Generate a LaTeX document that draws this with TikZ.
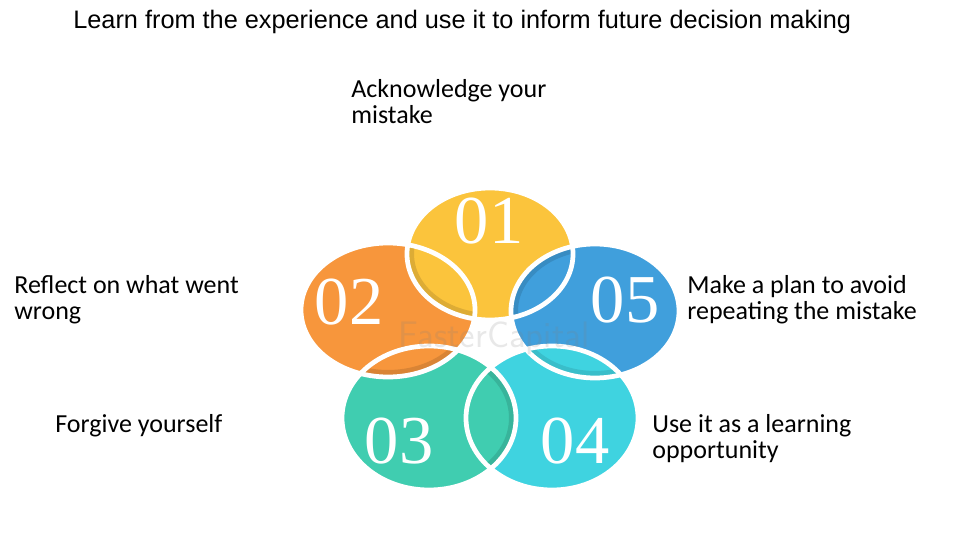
\documentclass[tikz,border=0pt]{standalone}
\usepackage{fontspec}
\setmainfont{Liberation Sans}
\newfontfamily\labfont{Carlito}
\newfontfamily\numfont{Liberation Serif}
\definecolor{cyel}{HTML}{FBC43C}
\definecolor{cora}{HTML}{F7963C}
\definecolor{cblu}{HTML}{409FDC}
\definecolor{cgrn}{HTML}{40CDB0}
\definecolor{ccya}{HTML}{3FD3E0}
\begin{document}
\begin{tikzpicture}[x=0.02cm,y=-0.02cm,
  EA/.style={insert path={(490,254) ellipse [x radius=83,y radius=66]}},
  EB/.style={insert path={(388,310) ellipse [x radius=87,y radius=67]}},
  EE/.style={insert path={(595,311) ellipse [x radius=84,y radius=67]}},
  EC/.style={insert path={(429,418) ellipse [x radius=87,y radius=72]}},
  ED/.style={insert path={(552,418) ellipse [x radius=86,y radius=72]}},
  rim/.style={draw=white,line width=2.7pt},
  shade/.style={line width=8pt},
  num/.style={text=white,font=\numfont\fontsize{39}{39}\selectfont,inner sep=0pt},
  lab/.style={font=\labfont\fontsize{14.8}{14.8}\selectfont,align=left,anchor=north west,inner sep=0pt},
  title/.style={font=\fontsize{14.4}{16}\selectfont,anchor=west,inner sep=0pt},
  wm/.style={font=\sffamily\fontsize{21}{21}\selectfont,text=gray,opacity=0.18,inner sep=0pt}]
\useasboundingbox[fill=white] (0,0) rectangle (980,550);
% base fills
\fill[cora,EB];
\fill[cgrn,EC];
\fill[ccya,ED];
\fill[cblu,EE];
\fill[cyel,EA];
% lens 01/02 (yellow, shade along 01 rim)
\begin{scope}\clip[EA];\clip[EB];
  \fill[cyel,EB];\draw[cyel!88!black,shade,EA];
\end{scope}
% lens 01/05 (blue, shade along 05 rim)
\begin{scope}\clip[EA];\clip[EE];
  \fill[cblu,EE];\draw[cblu!88!black,shade,EE];
\end{scope}
% lens 05/04 (cyan, shade along 05 rim)
\begin{scope}\clip[EE];\clip[ED];
  \fill[ccya,ED];\draw[ccya!90!black,shade,EE];
\end{scope}
% lens 04/03 (green, shade along 03 rim)
\begin{scope}\clip[EC];\clip[ED];
  \fill[cgrn,EC];\draw[cgrn!88!black,shade,EC];
\end{scope}
% lens 03/02 (orange, shade along 02 rim)
\begin{scope}\clip[EB];\clip[EC];
  \fill[cora,EB];\draw[cora!88!black,shade,EB];
\end{scope}
% white rims
\path[rim,EA];\path[rim,EB];\path[rim,EC];\path[rim,ED];\path[rim,EE];
% watermark
\node[wm] (wmk) at (494,338) {FasterCapital};
% numbers
\node[num] (n1) at (489,221) {01};
\node[num] (n2) at (349,302) {02};
\node[num] (n5) at (625,300) {05};
\node[num] (n3) at (399,441) {03};
\node[num] (n4) at (575,441) {04};
% texts
\node[title] (t) at (73,22) {Learn from the experience and use it to inform future decision making};
\node[lab] (l1) at (351,79) {Acknowledge your\\mistake};
\node[lab] (l2) at (14,275) {Reflect on what went\\wrong};
\node[lab] (l5) at (687,275) {Make a plan to avoid\\repeating the mistake};
\node[lab] (l3) at (55,414) {Forgive yourself};
\node[lab] (l4) at (652,414) {Use it as a learning\\opportunity};
\end{tikzpicture}
\end{document}
